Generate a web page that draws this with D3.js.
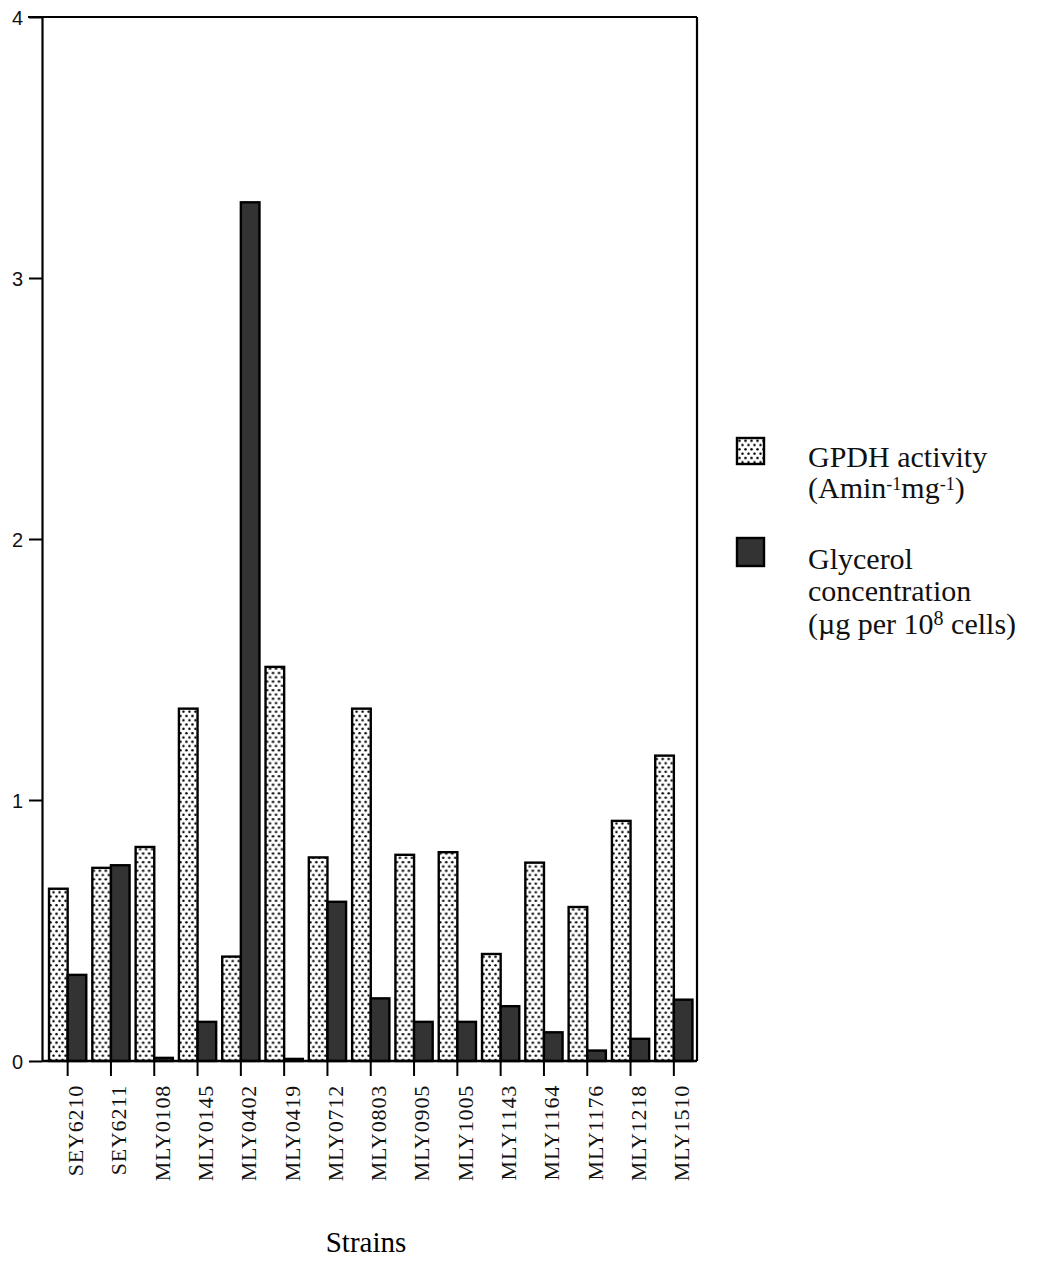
<!DOCTYPE html>
<html>
<head>
<meta charset="utf-8">
<script src="https://d3js.org/d3.v7.min.js"></script>
<style>
  body { margin: 0; background: #fff; }
  svg { display: block; }
  .tick text { fill: #111; }
</style>
</head>
<body>
<script>
// strains on the x axis
const strains = ["SEY6210", "SEY6211", "MLY0108", "MLY0145", "MLY0402", "MLY0419", "MLY0712",
  "MLY0803", "MLY0905", "MLY1005", "MLY1143", "MLY1164", "MLY1176", "MLY1218", "MLY1510"];
// GPDH activity (Amin-1 mg-1)
const gpdh = [0.66, 0.74, 0.82, 1.35, 0.40, 1.51, 0.78, 1.35, 0.79, 0.80, 0.41, 0.76, 0.59, 0.92, 1.17];
// glycerol concentration (ug per 10^8 cells)
const glycerol = [0.33, 0.75, 0.012, 0.15, 3.29, 0.008, 0.61, 0.24, 0.15, 0.15, 0.21, 0.11, 0.04, 0.085, 0.235];
const yTicks = [0, 1, 2, 3, 4];
const seriesKeys = ["gpdh", "glycerol"];

(function() {

const width = 1038;
const height = 1262;
const plotLeft = 42, plotRight = 697, plotTop = 17, plotBottom = 1061;
const serif = "'Liberation Serif', 'Times New Roman', serif";

let svg = d3.select("body").append("svg")
  .attr("width", width)
  .attr("height", height);

// dotted fill for the GPDH bars
let defs = svg.append("defs");
let pat = defs.append("pattern")
  .attr("id", "dots")
  .attr("patternUnits", "userSpaceOnUse")
  .attr("width", 6)
  .attr("height", 8.6);
pat.append("rect").attr("width", 6).attr("height", 8.6).attr("fill", "#fff");
pat.append("circle").attr("cx", 1.5).attr("cy", 2.1).attr("r", 1.25).attr("fill", "#000");
pat.append("circle").attr("cx", 4.5).attr("cy", 6.4).attr("r", 1.25).attr("fill", "#000");

let x = d3.scaleBand()
  .domain(strains)
  .range([46, 695.5])
  .paddingInner(0.14)
  .paddingOuter(0.07);

let x1 = d3.scaleBand()
  .domain(seriesKeys)
  .range([0, x.bandwidth()]);

let y = d3.scaleLinear()
  .domain([0, 4])
  .range([plotBottom, plotTop]);

let rows = strains.map((s, i) => ({ strain: s, gpdh: gpdh[i], glycerol: glycerol[i] }));

// bars
let groups = svg.selectAll(".grp")
  .data(rows)
  .enter()
  .append("g")
  .attr("class", "grp")
  .attr("transform", d => "translate(" + x(d.strain) + ",0)");

groups.selectAll("rect")
  .data(d => seriesKeys.map(k => ({ key: k, value: d[k] })))
  .enter()
  .append("rect")
  .attr("x", d => x1(d.key))
  .attr("y", d => y(d.value))
  .attr("width", x1.bandwidth())
  .attr("height", d => y(0) - y(d.value))
  .attr("fill", d => d.key == "gpdh" ? "url(#dots)" : "#333")
  .attr("stroke", "#000")
  .attr("stroke-width", 2.4);

// frame
svg.append("line")
  .attr("x1", plotLeft - 14).attr("x2", plotRight)
  .attr("y1", plotTop).attr("y2", plotTop)
  .attr("stroke", "#000").attr("stroke-width", 2.2);
svg.append("line")
  .attr("x1", plotRight).attr("x2", plotRight)
  .attr("y1", plotTop).attr("y2", plotBottom)
  .attr("stroke", "#000").attr("stroke-width", 2.2);
svg.append("line")
  .attr("x1", plotLeft).attr("x2", plotRight)
  .attr("y1", plotBottom).attr("y2", plotBottom)
  .attr("stroke", "#000").attr("stroke-width", 2.6);

// y axis
let yAxis = d3.axisLeft(y)
  .tickValues(yTicks)
  .tickFormat(d3.format("d"))
  .tickSize(13)
  .tickSizeOuter(0)
  .tickPadding(6);
let gy = svg.append("g")
  .attr("transform", "translate(" + plotLeft + ",0)")
  .call(yAxis);
gy.select(".domain").attr("stroke", "#000").attr("stroke-width", 2.2);
gy.selectAll(".tick line").attr("stroke", "#000").attr("stroke-width", 2);
gy.selectAll(".tick text")
  .attr("dy", "0.36em")
  .style("font-family", "'Liberation Sans', Arial, sans-serif")
  .style("font-size", "20px");

// x axis
let xAxis = d3.axisBottom(x)
  .tickSize(15)
  .tickSizeOuter(0);
let gx = svg.append("g")
  .attr("transform", "translate(0," + plotBottom + ")")
  .call(xAxis);
gx.select(".domain").remove();
gx.selectAll(".tick line").attr("stroke", "#000").attr("stroke-width", 2);
gx.selectAll(".tick text")
  .attr("transform", "rotate(-90)")
  .attr("text-anchor", "end")
  .attr("x", -24)
  .attr("y", 0)
  .attr("dy", "0.7em")
  .style("font-family", serif)
  .style("font-size", "22px")
  .style("letter-spacing", "0.8px");

// axis title
svg.append("text")
  .attr("x", 366)
  .attr("y", 1252)
  .attr("text-anchor", "middle")
  .style("font-family", serif)
  .style("font-size", "29px")
  .text("Strains");

// legend
let legend = svg.append("g")
  .style("font-family", serif)
  .style("font-size", "30px")
  .attr("fill", "#111");

legend.append("rect")
  .attr("x", 737).attr("y", 438).attr("width", 27).attr("height", 26)
  .attr("fill", "url(#dots)").attr("stroke", "#000").attr("stroke-width", 2.4);
legend.append("rect")
  .attr("x", 737).attr("y", 538).attr("width", 27).attr("height", 28)
  .attr("fill", "#333").attr("stroke", "#000").attr("stroke-width", 2.4);

legend.append("text").attr("x", 808).attr("y", 467).text("GPDH activity");

let t2 = legend.append("text").attr("x", 808).attr("y", 498);
t2.append("tspan").text("(Amin");
t2.append("tspan").attr("dy", -8).style("font-size", "18px").text("-1");
t2.append("tspan").attr("dy", 8).text("mg");
t2.append("tspan").attr("dy", -8).style("font-size", "18px").text("-1");
t2.append("tspan").attr("dy", 8).text(")");

legend.append("text").attr("x", 808).attr("y", 569).text("Glycerol");
legend.append("text").attr("x", 808).attr("y", 601).text("concentration");

let t5 = legend.append("text").attr("x", 808).attr("y", 634);
t5.append("tspan").text("(\u00b5g per 10");
t5.append("tspan").attr("dy", -9).style("font-size", "20px").text("8");
t5.append("tspan").attr("dy", 9).text(" cells)");

})();
</script>
</body>
</html>
